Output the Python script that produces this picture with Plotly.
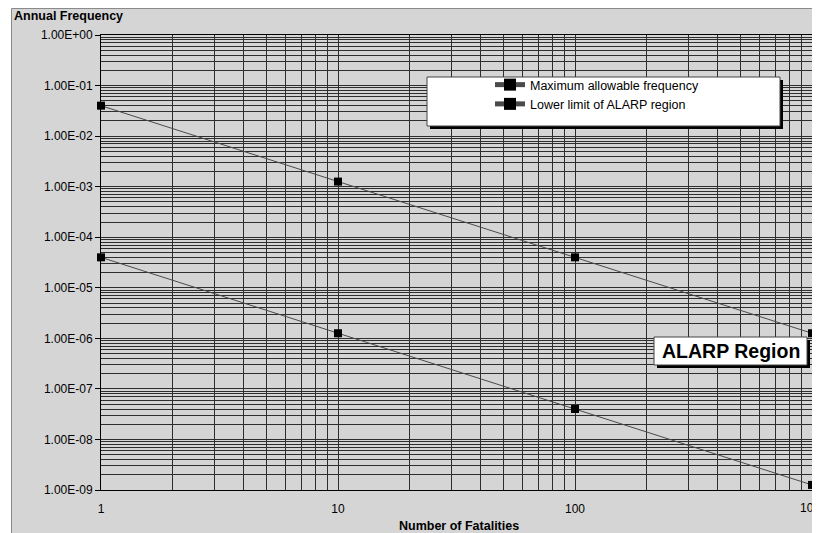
import plotly.graph_objects as go

# ---- data ----
fatalities = [1, 10, 100, 1000]
max_allowable = [4.0e-2, 1.26e-3, 4.0e-5, 1.26e-6]
lower_limit = [4.0e-5, 1.26e-6, 4.0e-8, 1.26e-9]
series_names = ["Maximum allowable frequency", "Lower limit of ALARP region"]
y_tick_vals = [10.0 ** e for e in range(-9, 1)]
y_tick_text = ["1.00E-09", "1.00E-08", "1.00E-07", "1.00E-06", "1.00E-05",
               "1.00E-04", "1.00E-03", "1.00E-02", "1.00E-01", "1.00E+00"]
x_tick_vals = [1, 10, 100, 1000]
x_tick_text = ["1", "10", "100", "1000"]

OFF = 8  # browser body margin
W, H = 812, 525
L, R, T, B = 93, 8, 27, 43
PW, PH = W - L - R, H - T - B

def px(x):  # page pixel -> paper
    return (x - OFF - L) / PW

def py(y):
    return (H - B - (y - OFF)) / PH

FONT = "Liberation Sans, Arial, sans-serif"
GRID = "#2e2e2e"
BG = "#d5d5d5"

fig = go.Figure()
for name, vals in zip(series_names, [max_allowable, lower_limit]):
    fig.add_trace(go.Scatter(
        x=fatalities, y=vals, name=name, mode="lines+markers",
        line=dict(color="#4a4a4a", width=1),
        marker=dict(symbol="square", size=8, color="black"),
        cliponaxis=False,
    ))

minor_y = [m * 10.0 ** e for e in range(-9, 0) for m in range(2, 10)]
minor_x = [m * 10.0 ** e for e in range(0, 3) for m in range(2, 10)]

fig.update_xaxes(
    type="log", range=[0, 3], automargin=False,
    tickvals=x_tick_vals[:-1], ticktext=x_tick_text[:-1],
    ticks="", ticklabelstandoff=8,
    tickfont=dict(family=FONT, size=12, color="black"),
    showgrid=True, gridcolor=GRID, gridwidth=1,
    minor=dict(tickvals=minor_x, showgrid=True, gridcolor=GRID, gridwidth=1, ticks=""),
    showline=True, linecolor="black", linewidth=1, mirror=True,
    zeroline=False,
)
fig.update_yaxes(
    type="log", range=[-9, 0], automargin=False,
    tickvals=y_tick_vals, ticktext=y_tick_text,
    ticks="outside", ticklen=5, tickcolor="black",
    tickfont=dict(family=FONT, size=12, color="black"),
    showgrid=True, gridcolor=GRID, gridwidth=1,
    minor=dict(tickvals=minor_y, showgrid=True, gridcolor=GRID, gridwidth=1, ticks=""),
    showline=True, linecolor="black", linewidth=1, mirror=True,
    zeroline=False,
)

shapes = [
    # chart area background with border
    dict(type="rect", xref="paper", yref="paper", layer="below",
         x0=px(11.5), y0=py(8.5), x1=px(840), y1=py(560),
         fillcolor=BG, line=dict(color="#8a8a8a", width=1)),
    # legend shadow + box
    dict(type="rect", xref="paper", yref="paper", layer="above",
         x0=px(430), y0=py(80), x1=px(783), y1=py(129),
         fillcolor="black", line=dict(width=0)),
    dict(type="rect", xref="paper", yref="paper", layer="above",
         x0=px(427), y0=py(77), x1=px(780), y1=py(126),
         fillcolor="white", line=dict(color="#444444", width=1)),
    # ALARP box shadow + box
    dict(type="rect", xref="paper", yref="paper", layer="above",
         x0=px(657), y0=py(340), x1=px(810), y1=py(368),
         fillcolor="black", line=dict(width=0)),
    dict(type="rect", xref="paper", yref="paper", layer="above",
         x0=px(654), y0=py(337), x1=px(807), y1=py(365),
         fillcolor="white", line=dict(color="#444444", width=1)),
]

annotations = [
    # last x tick label (partly cut by the page edge, as in the original)
    dict(text=x_tick_text[-1], xref="paper", yref="paper",
         x=px(797.5), y=py(508), xanchor="left", yanchor="middle",
         showarrow=False, font=dict(family=FONT, size=12, color="black")),
    dict(text="<b>Annual Frequency</b>", xref="paper", yref="paper",
         x=px(12), y=py(16), xanchor="left", yanchor="middle", showarrow=False,
         font=dict(family=FONT, size=12.5, color="black")),
    dict(text="<b>Number of Fatalities</b>", xref="paper", yref="paper",
         x=px(459), y=py(526), xanchor="center", yanchor="middle", showarrow=False,
         font=dict(family=FONT, size=12.5, color="black")),
    dict(text="<b>ALARP Region</b>", xref="paper", yref="paper",
         x=px(731), y=py(351), xanchor="center", yanchor="middle", showarrow=False,
         font=dict(family=FONT, size=19.5, color="black")),
]

fig.update_layout(
    width=W, height=H, autosize=False,
    margin=dict(l=L, r=R, t=T, b=B, pad=0),
    paper_bgcolor="white", plot_bgcolor=BG,
    shapes=shapes, annotations=annotations,
    showlegend=True,
    legend=dict(x=px(490), y=py(70), xanchor="left", yanchor="top",
                bgcolor="rgba(0,0,0,0)", borderwidth=0,
                font=dict(family=FONT, size=12.5, color="black"),
                tracegroupgap=0, itemsizing="constant"),
)

fig.write_html(
    "out.html",
    post_script="document.documentElement.style.overflow='hidden';"
                "document.body.style.overflow='hidden';",
)
